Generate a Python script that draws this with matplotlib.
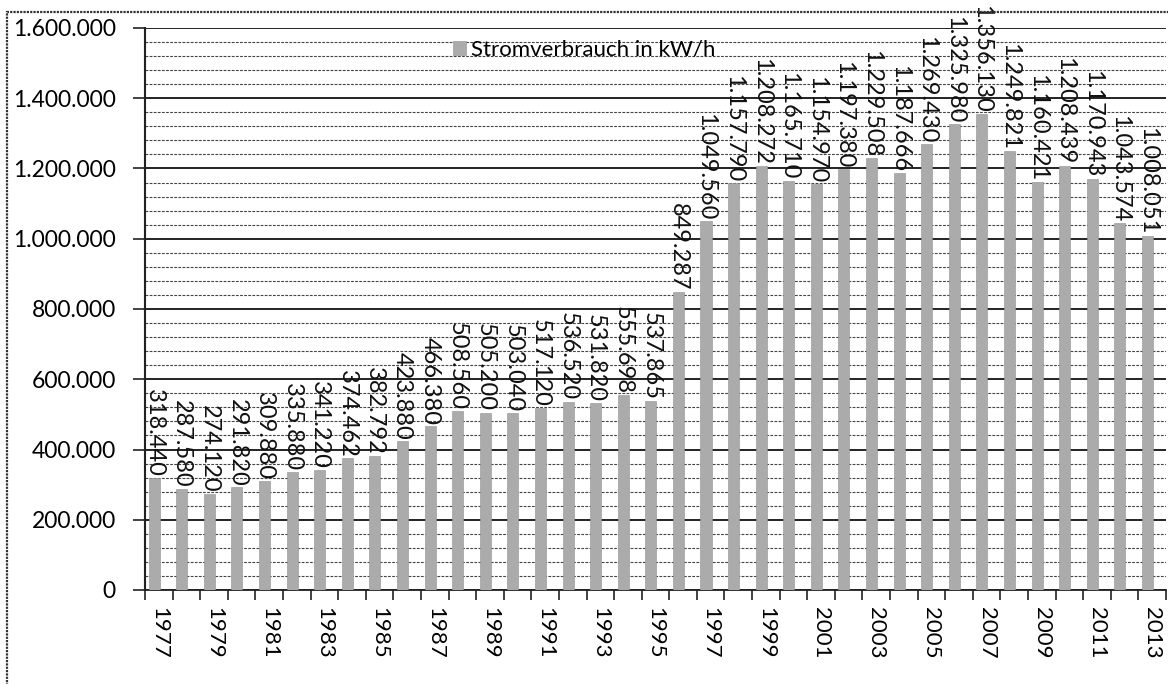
import matplotlib
matplotlib.use("Agg")
import matplotlib.pyplot as plt
from matplotlib.ticker import FuncFormatter, MultipleLocator, FixedLocator
from matplotlib.patches import Rectangle
import numpy as np

years = list(range(1977, 2014))
values = [318440, 287580, 274120, 291820, 309880, 335880, 341220, 374462, 382792,
          423880, 466380, 508560, 505200, 503040, 517120, 536520, 531820, 555698,
          537865, 849287, 1049560, 1157790, 1208272, 1165710, 1154970, 1197380,
          1229508, 1187666, 1269430, 1325980, 1356130, 1249821, 1160421, 1208439,
          1170943, 1043574, 1008051]
series_name = "Stromverbrauch in kW/h"
y_max = 1600000
y_step = 200000

plt.rcParams['font.family'] = ['Lato', 'DejaVu Sans']

def de(v):
    return f"{int(v):,}".replace(",", ".")

fig = plt.figure(figsize=(11.68, 6.84), dpi=100)
W, H = 1168, 684
ax = fig.add_axes([145 / W, 1 - 590 / H, (1166 - 145) / W, (590 - 28) / H])

n = len(years)
idx = np.arange(n)
bar_w = 0.4
offs = -0.17
ax.bar(idx + offs, values, width=bar_w, color='#ababab', edgecolor='#909090',
       linewidth=0.4, zorder=3, label=series_name)

for i, v in zip(idx, values):
    ax.text(i + offs, v + 3000, de(v), rotation=270, ha='center', va='bottom',
            fontsize=17, color='#111111', zorder=4)

ax.set_xlim(-0.5, n - 0.5)
ax.set_ylim(0, y_max)

ax.yaxis.set_major_locator(MultipleLocator(y_step))
ax.yaxis.set_minor_locator(MultipleLocator(y_step / 5))
ax.yaxis.set_major_formatter(FuncFormatter(lambda v, p: de(v)))
ax.grid(which='major', axis='y', color='#111111', linewidth=1.3, zorder=1)
ax.grid(which='minor', axis='y', color='#444444', linewidth=0.8,
        linestyle=(0, (2.5, 1.2)), zorder=1)

ax.xaxis.set_major_locator(FixedLocator(idx[::2]))
ax.set_xticklabels([str(y) for y in years[::2]], rotation=270)
ax.xaxis.set_minor_locator(FixedLocator(np.arange(n + 1) - 0.5))
ax.tick_params(axis='x', which='major', length=0, pad=12, labelsize=16)
ax.tick_params(axis='x', which='minor', length=7, width=1.2, direction='out', color='#222222')
ax.tick_params(axis='y', which='major', length=9, width=1.2, pad=12, labelsize=16.5,
               color='#222222')
ax.tick_params(axis='y', which='minor', length=0)

for s in ['top', 'right']:
    ax.spines[s].set_visible(False)
ax.spines['left'].set_linestyle((0, (1, 0.6)))
ax.spines['left'].set_linewidth(1.5)
ax.spines['left'].set_color('#222222')
ax.spines['bottom'].set_color('#222222')
ax.spines['bottom'].set_linewidth(1.3)
ax.set_axisbelow(True)

leg = fig.legend(loc='center left', bbox_to_anchor=(453 / W, 1 - 50 / H),
                 frameon=False, fontsize=16, handlelength=0.6, handleheight=0.6,
                 handletextpad=0.2, borderpad=0, borderaxespad=0)

frame = Rectangle((7 / W, -0.05), 1.2, 1 - 12 / H + 0.05, transform=fig.transFigure,
                  fill=False, edgecolor='#333333', linewidth=1.6,
                  linestyle=(0, (1, 0.5)))
fig.patches.append(frame)

fig.savefig("out.png", dpi=100)
